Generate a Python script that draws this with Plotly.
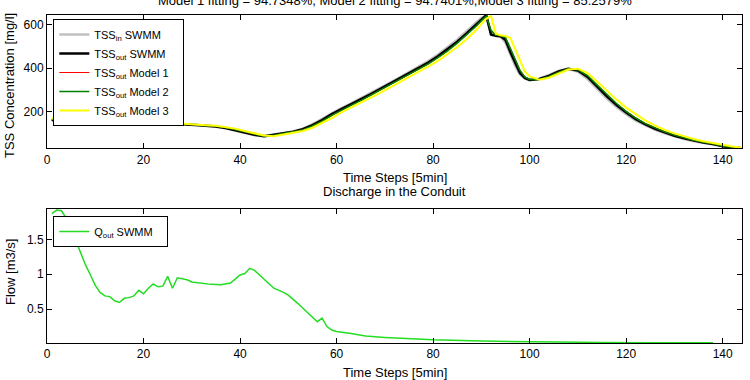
import plotly.graph_objects as go

# ---------------- data ----------------
t_tss = [1, 3, 5, 7, 9, 11, 13, 15, 17, 19, 21, 23, 25, 27, 29, 31, 33, 35, 37, 39,
         41, 43, 45, 47, 49, 51, 53, 55, 57, 59, 61, 63, 65, 67, 69, 71, 73, 75, 77, 79,
         81, 83, 85, 87, 89, 90, 91, 92, 93, 94, 95, 96, 97, 98, 99, 100,
         102, 104, 106, 108, 110, 112, 114, 116, 118, 120, 122, 124, 126, 128, 130,
         132, 134, 136, 138, 140, 142, 144]

tss_in_swmm = [160, 143, 140, 155, 178, 197, 206, 207, 203, 192, 174, 155, 147, 142, 139, 137, 134, 130, 122, 111,
               100, 90, 86, 93, 102, 108, 121, 141, 166, 193, 216, 238, 261, 285, 309, 333, 357, 381, 406, 433,
               463, 496, 532, 572, 611, 633, 643, 554, 549, 546, 518, 462, 411, 371, 352, 345,
               352, 369, 388, 397, 384, 350, 304, 260, 221, 187, 158, 135, 115, 99, 85,
               73, 63, 55, 48, 38, 33, 29]

tss_out_swmm = [163, 145, 139, 152, 175, 195, 205, 208, 205, 195, 178, 158, 148, 143, 140, 138, 135, 131, 124, 114,
                103, 92, 86, 92, 101, 107, 118, 137, 160, 188, 211, 233, 255, 279, 303, 327, 351, 375, 400, 426,
                455, 487, 523, 562, 605, 628, 645, 556, 550, 548, 530, 475, 423, 378, 355, 346,
                350, 365, 385, 398, 390, 360, 315, 270, 230, 195, 165, 140, 120, 103, 88,
                76, 65, 57, 50, 39, 34, 30]

tss_out_model1 = [165, 147, 139, 150, 172, 192, 204, 208, 206, 197, 181, 162, 150, 144, 141, 138, 136, 132, 126, 116,
                  105, 94, 86, 90, 99, 106, 115, 133, 155, 182, 206, 228, 250, 274, 298, 322, 346, 370, 395, 420,
                  449, 480, 516, 554, 596, 620, 640, 574, 553, 550, 542, 492, 438, 390, 360, 348,
                  348, 362, 382, 398, 393, 366, 322, 278, 237, 201, 170, 144, 124, 106, 91,
                  78, 67, 58, 51, 40, 35, 31]

tss_out_model2 = [165, 147, 139, 150, 172, 192, 204, 208, 206, 197, 181, 162, 150, 144, 141, 138, 136, 132, 126, 116,
                  105, 94, 86, 90, 99, 106, 115, 133, 155, 182, 206, 228, 250, 274, 298, 322, 346, 370, 395, 420,
                  449, 480, 516, 554, 596, 620, 640, 575, 553, 550, 542, 492, 438, 390, 360, 348,
                  348, 362, 382, 398, 393, 366, 322, 278, 237, 201, 170, 144, 124, 106, 91,
                  78, 67, 58, 51, 40, 35, 31]

tss_out_model3 = [170, 152, 140, 145, 165, 186, 200, 207, 208, 201, 188, 170, 154, 146, 142, 139, 137, 134, 129, 121,
                  110, 99, 89, 86, 95, 103, 110, 125, 146, 170, 196, 218, 240, 262, 286, 310, 334, 358, 382, 408,
                  434, 464, 498, 535, 578, 605, 628, 642, 560, 552, 549, 540, 490, 432, 385, 362,
                  347, 356, 375, 394, 398, 378, 338, 295, 255, 218, 186, 158, 135, 115, 99,
                  85, 73, 63, 55, 45, 38, 33]

t_flow = [1, 2, 3, 4, 5, 6, 7, 8, 9, 10, 11, 12, 13, 14, 15, 16, 17, 18, 19, 20,
          21, 22, 23, 24, 25, 26, 27, 28, 29, 30, 32, 34, 36, 38, 39, 40, 41, 42, 43, 45,
          47, 49, 50, 52, 54, 56, 57, 58, 59, 60, 63, 66, 70, 75, 80, 90, 100, 115, 125, 138]
q_out_swmm = [1.87, 1.92, 1.91, 1.80, 1.65, 1.47, 1.29, 1.13, 0.99, 0.84, 0.74, 0.69, 0.68, 0.62, 0.595, 0.655, 0.665, 0.69, 0.77, 0.72,
              0.80, 0.86, 0.82, 0.83, 0.97, 0.80, 0.95, 0.94, 0.92, 0.89, 0.87, 0.855, 0.85, 0.875, 0.93, 0.99, 1.01, 1.085, 1.055, 0.92,
              0.80, 0.74, 0.70, 0.58, 0.45, 0.32, 0.37, 0.25, 0.20, 0.18, 0.15, 0.115, 0.095, 0.08, 0.06, 0.042, 0.03, 0.022, 0.02, 0.02]

x_ticks = [0, 20, 40, 60, 80, 100, 120, 140]
tss_ticks = [200, 400, 600]
flow_ticks = [0.5, 1, 1.5]

title_top = "Model 1 fitting = 94.7348%, Model 2 fitting = 94.7401%,Model 3 fitting = 85.2579%"
title_bottom = "Discharge in the Conduit"
x_title = "Time Steps [5min]"

# ---------------- figure ----------------
FONT = "Liberation Sans, Arial, Helvetica, sans-serif"
W, H = 750, 380
ML, MR, MT, MB = 47, 8, 15, 37
PH = H - MT - MB
PW = W - ML - MR


def py2paper(py):
    return (H - MB - py) / PH


def px2paper(px):
    return (px - ML) / PW


NB = "\u00a0\u00a0\u00a0"

fig = go.Figure()
fig.add_trace(go.Scatter(x=t_tss, y=tss_in_swmm, mode="lines", name="TSS<sub>in</sub> SWMM" + NB,
                         line=dict(color="#c0c0c0", width=2.5), xaxis="x", yaxis="y", legend="legend"))
fig.add_trace(go.Scatter(x=t_tss, y=tss_out_swmm, mode="lines", name="TSS<sub>out</sub> SWMM" + NB,
                         line=dict(color="#000000", width=2.5), xaxis="x", yaxis="y", legend="legend"))
fig.add_trace(go.Scatter(x=t_tss, y=tss_out_model1, mode="lines", name="TSS<sub>out</sub> Model 1" + NB,
                         line=dict(color="#ff0000", width=1), xaxis="x", yaxis="y", legend="legend"))
fig.add_trace(go.Scatter(x=t_tss, y=tss_out_model2, mode="lines", name="TSS<sub>out</sub> Model 2" + NB,
                         line=dict(color="#008000", width=1.5), xaxis="x", yaxis="y", legend="legend"))
fig.add_trace(go.Scatter(x=t_tss, y=tss_out_model3, mode="lines", name="TSS<sub>out</sub> Model 3" + NB,
                         line=dict(color="#ffff00", width=2), xaxis="x", yaxis="y", legend="legend"))
fig.add_trace(go.Scatter(x=t_flow, y=q_out_swmm, mode="lines", name="Q<sub>out</sub> SWMM" + NB,
                         line=dict(color="#22dd22", width=1.5), xaxis="x2", yaxis="y2", legend="legend2"))

top_dom = [py2paper(148.3), 1.0]
bot_dom = [0.0, py2paper(209)]

axis_common = dict(showline=True, linecolor="black", linewidth=1, mirror="ticks",
                   ticks="inside", ticklen=5, tickcolor="black", showgrid=False, zeroline=False,
                   tickfont=dict(family=FONT, size=12, color="black"))

fig.update_layout(
    width=W, height=H,
    margin=dict(l=ML, r=MR, t=MT, b=MB),
    paper_bgcolor="white", plot_bgcolor="white",
    font=dict(family=FONT, size=12, color="black"),
    xaxis=dict(domain=[0, 1], range=[0, 144], tickvals=x_ticks, anchor="y", **axis_common),
    yaxis=dict(domain=top_dom, range=[30, 646], tickvals=tss_ticks, anchor="x", **axis_common),
    xaxis2=dict(domain=[0, 1], range=[0, 144], tickvals=x_ticks, anchor="y2", **axis_common),
    yaxis2=dict(domain=bot_dom, range=[0.015, 1.935], tickvals=flow_ticks, anchor="x2", **axis_common),
    legend=dict(x=px2paper(53.3), y=py2paper(19), xanchor="left", yanchor="top",
                bgcolor="white", bordercolor="black", borderwidth=1,
                font=dict(family=FONT, size=11, color="black"), tracegroupgap=0),
    legend2=dict(x=px2paper(53.3), y=py2paper(216), xanchor="left", yanchor="top",
                 bgcolor="white", bordercolor="black", borderwidth=1,
                 font=dict(family=FONT, size=11, color="black")),
    showlegend=True,
)

ann_font = dict(family=FONT, size=13, color="black")
annotations = [
    dict(text=title_top, x=0.5, y=py2paper(0), xref="paper", yref="paper",
         xanchor="center", yanchor="middle", showarrow=False, font=ann_font),
    dict(text=x_title, x=0.5, y=py2paper(177), xref="paper", yref="paper",
         xanchor="center", yanchor="middle", showarrow=False, font=ann_font),
    dict(text=title_bottom, x=0.5, y=py2paper(192), xref="paper", yref="paper",
         xanchor="center", yanchor="middle", showarrow=False, font=ann_font),
    dict(text=x_title, x=0.5, y=py2paper(372), xref="paper", yref="paper",
         xanchor="center", yanchor="middle", showarrow=False, font=ann_font),
    dict(text="TSS Concentration [mg/l]", x=px2paper(10), y=py2paper(86), xref="paper", yref="paper",
         xanchor="center", yanchor="middle", textangle=-90, showarrow=False, font=ann_font),
    dict(text="Flow [m3/s]", x=px2paper(10), y=py2paper(272), xref="paper", yref="paper",
         xanchor="center", yanchor="middle", textangle=-90, showarrow=False, font=ann_font),
]
fig.update_layout(annotations=annotations)

fig.write_html("out.html")
